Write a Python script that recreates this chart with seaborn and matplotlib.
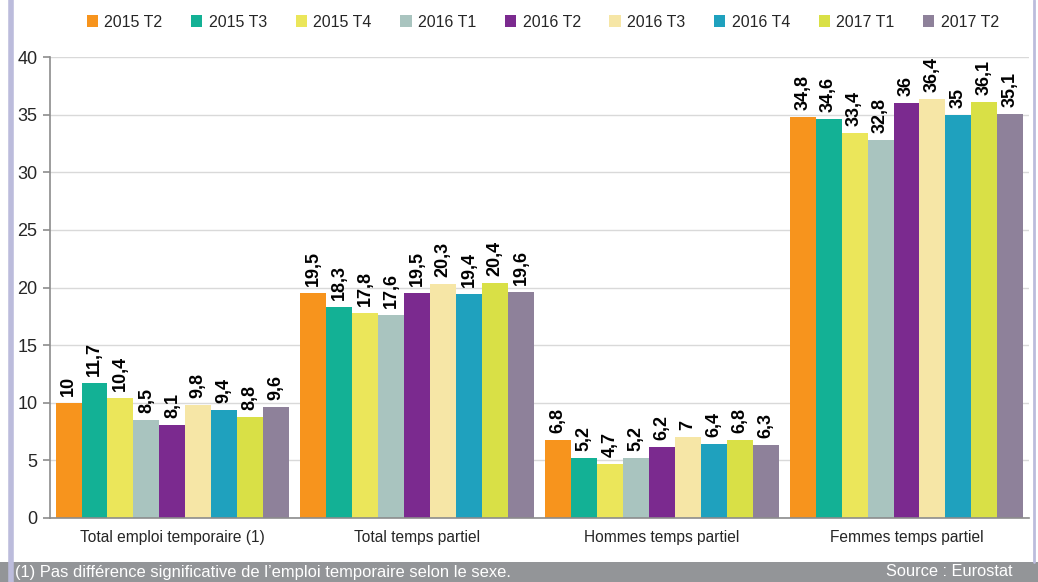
import pandas as pd
import numpy as np
import matplotlib as mpl
import matplotlib.pyplot as plt
import seaborn as sns
from matplotlib.patches import Patch, Rectangle
from matplotlib.lines import Line2D

mpl.use('Agg')

# Donnees du graphique
categories = ['Total emploi temporaire (1)', 'Total temps partiel',
              'Hommes temps partiel', 'Femmes temps partiel']
periodes = ['2015 T2', '2015 T3', '2015 T4', '2016 T1', '2016 T2',
            '2016 T3', '2016 T4', '2017 T1', '2017 T2']
valeurs = {
    '2015 T2': [10.0, 19.5, 6.8, 34.8],
    '2015 T3': [11.7, 18.3, 5.2, 34.6],
    '2015 T4': [10.4, 17.8, 4.7, 33.4],
    '2016 T1': [8.5, 17.6, 5.2, 32.8],
    '2016 T2': [8.1, 19.5, 6.2, 36.0],
    '2016 T3': [9.8, 20.3, 7.0, 36.4],
    '2016 T4': [9.4, 19.4, 6.4, 35.0],
    '2017 T1': [8.8, 20.4, 6.8, 36.1],
    '2017 T2': [9.6, 19.6, 6.3, 35.1],
}
couleurs = ['#F7941D', '#13B195', '#EBE65A', '#A9C4BF', '#7B2A8F',
            '#F6E6A6', '#1FA1BE', '#D9E046', '#8E819A']

rows = []
for p in periodes:
    for c, v in zip(categories, valeurs[p]):
        rows.append({'categorie': c, 'periode': p, 'valeur': v})
df = pd.DataFrame(rows)

sns.set_style('white')
plt.rcParams['font.family'] = ['Liberation Sans', 'DejaVu Sans']

fig = plt.figure(figsize=(10.38, 5.82), dpi=100)
ax = fig.add_axes([0.0482, 0.110, 0.943, 0.792])

sns.barplot(data=df, x='categorie', y='valeur', hue='periode',
            order=categories, hue_order=periodes, palette=couleurs,
            width=0.955, gap=0, saturation=1, ax=ax, legend=False,
            edgecolor='none', linewidth=0)

def fmt(v):
    s = ('%.1f' % v).replace('.', ',')
    return s[:-2] if s.endswith(',0') else s

for cont, p in zip(ax.containers, periodes):
    ax.bar_label(cont, labels=[fmt(v) for v in valeurs[p]], rotation=90,
                 padding=5, fontsize=13, fontweight='bold', color='black')

ax.set_ylim(0, 40)
ax.set_xlim(-0.5, 3.5)
ax.set_yticks(np.arange(0, 41, 5))
ax.yaxis.grid(True, color='#d9d9d9', linewidth=1)
ax.set_axisbelow(True)
ax.set_xlabel('')
ax.set_ylabel('')
for s in ['top', 'right']:
    ax.spines[s].set_visible(False)
for s in ['left', 'bottom']:
    ax.spines[s].set_color('#8c8c8c')
    ax.spines[s].set_linewidth(1.2)
ax.set_xticks(range(4))
ax.set_xticklabels(categories, fontsize=11.2)
ax.set_xticks([-0.5, 0.5, 1.5, 2.5, 3.5], minor=True)
ax.tick_params(axis='x', which='major', length=0, pad=9)
ax.tick_params(axis='x', which='minor', length=5, color='#8c8c8c', width=1.2)
ax.tick_params(axis='y', length=5, color='#8c8c8c', width=1.2, labelsize=13, left=True, pad=4)

handles = [Patch(facecolor=c, edgecolor='none') for c in couleurs]
fig.legend(handles, periodes, loc='center', bbox_to_anchor=(0.523, 0.962),
           ncol=9, frameon=False, fontsize=11.5, handlelength=0.7,
           handleheight=0.7, handletextpad=0.4, columnspacing=1.8)

# Bandeau du bas et bordures
fig.patches.append(Rectangle((0, 0), 1, 20 / 582, transform=fig.transFigure,
                             facecolor='#939598', edgecolor='none', zorder=0))
fig.add_artist(Line2D([10.5 / 1038, 10.5 / 1038], [0, 1], transform=fig.transFigure,
                      color='#bcbcdc', linewidth=4))
fig.add_artist(Line2D([1033.5 / 1038, 1033.5 / 1038], [20 / 582, 1], transform=fig.transFigure,
                      color='#bcbcdc', linewidth=2))
fig.text(15 / 1038, 10 / 582, '(1) Pas différence significative de l\u2019emploi temporaire selon le sexe.',
         color='white', fontsize=11.9, va='center', ha='left')
fig.text(1013 / 1038, 10 / 582, 'Source : Eurostat', color='white', fontsize=11.8,
         va='center', ha='right')

plt.savefig('out.png', dpi=100)
